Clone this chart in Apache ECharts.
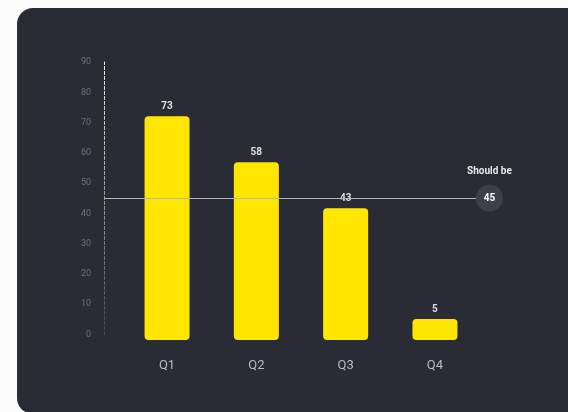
<!DOCTYPE html>
<html>
<head>
<meta charset="utf-8">
<script src="https://cdn.jsdelivr.net/npm/echarts@6/dist/echarts.min.js"></script>
<style>
html,body{margin:0;padding:0;background:#fbfbfb;width:568px;height:412px;overflow:hidden;}
#card{position:absolute;left:17px;top:8px;width:570px;height:406px;background:#292c35;border-radius:16px;}
#chart{position:absolute;left:0;top:0;width:568px;height:412px;}
</style>
</head>
<body>
<div id="card"></div>
<div id="chart"></div>
<script>
const categories = ['Q1', 'Q2', 'Q3', 'Q4'];
const values = [73, 58, 43, 5];
const targetValue = 45;
const targetName = 'Should be';
const yMin = 0, yMax = 90, yStep = 10;

const chart = echarts.init(document.getElementById('chart'), null, {renderer: 'canvas'});
const font = 'Roboto, "Noto Sans", sans-serif';
chart.setOption({
  backgroundColor: 'transparent',
  textStyle: {fontFamily: font},
  grid: [
    {left: 122.4, right: 88.4, top: 64, bottom: 72},
    {left: 104, right: 92, top: 62, bottom: 77.5}
  ],
  xAxis: [
    {
      type: 'category', gridIndex: 0, data: categories,
      axisLine: {show: false}, axisTick: {show: false},
      axisLabel: {color: '#b8bac1', fontSize: 13, margin: 19, fontFamily: font}
    },
    {type: 'value', gridIndex: 1, min: 0, max: 1, show: false}
  ],
  yAxis: [
    {type: 'value', gridIndex: 0, min: yMin, max: yMax, show: false},
    {
      type: 'value', gridIndex: 1, min: yMin, max: yMax, interval: yStep,
      splitLine: {show: false}, axisTick: {show: false},
      axisLine: {
        show: true,
        lineStyle: {
          type: [3, 2], width: 1,
          color: new echarts.graphic.LinearGradient(0, 0, 0, 1, [
            {offset: 0, color: 'rgba(255,255,255,0.95)'},
            {offset: 1, color: 'rgba(255,255,255,0.12)'}
          ])
        }
      },
      axisLabel: {color: '#6f727c', fontSize: 9, margin: 13, fontFamily: font}
    }
  ],
  series: [
    {
      type: 'bar', xAxisIndex: 0, yAxisIndex: 0, data: values,
      barWidth: 45, barMinHeight: 21,
      itemStyle: {color: '#ffe600', borderRadius: 4},
      label: {show: true, position: 'top', distance: 5, color: '#dedfe2', fontSize: 10, fontWeight: 'bold', fontFamily: font},
      z: 2
    },
    {
      type: 'line', xAxisIndex: 1, yAxisIndex: 1, data: [],
      z: 5,
      markLine: {
        silent: true,
        symbol: ['none', 'none'],
        animation: false,
        lineStyle: {color: '#b4b6bc', width: 1, type: 'solid'},
        label: {
          show: true, position: 'end', distance: -9,
          formatter: function () { return '{a|' + targetName + '}\n{s|}\n{b|' + targetValue + '}\n{c|}'; },
          rich: {
            a: {color: '#e8e8ea', fontSize: 10, fontWeight: 'bold', align: 'center', height: 14, lineHeight: 14, fontFamily: font},
            s: {height: 6, lineHeight: 6, fontSize: 6},
            b: {color: '#ffffff', fontSize: 10, fontWeight: 'bold', align: 'center', width: 27, height: 27, lineHeight: 27, borderRadius: 14, backgroundColor: '#3d404a', fontFamily: font},
            c: {height: 20, lineHeight: 20, fontSize: 10}
          }
        },
        data: [{yAxis: targetValue}]
      }
    }
  ]
});
</script>
</body>
</html>
